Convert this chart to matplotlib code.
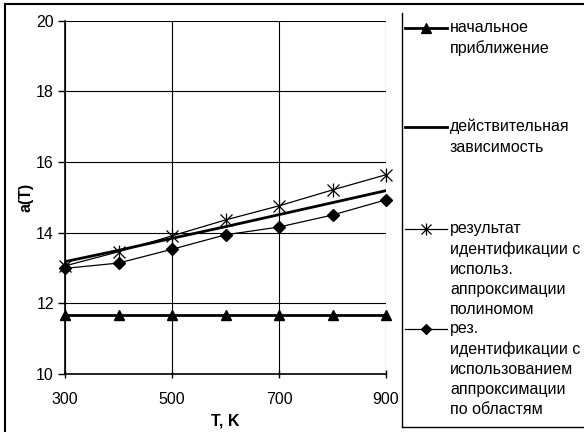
import matplotlib.pyplot as plt
from matplotlib.lines import Line2D

plt.rcParams['font.family'] = ['Liberation Sans', 'DejaVu Sans']
plt.rcParams['font.size'] = 11.5

# температура, К
T = [300, 400, 500, 600, 700, 800, 900]

initial = [11.68, 11.68, 11.68, 11.68, 11.68, 11.68, 11.68]
actual = [13.18, 13.50, 13.84, 14.17, 14.51, 14.85, 15.19]
poly = [13.06, 13.46, 13.91, 14.36, 14.76, 15.21, 15.64]
regions = [12.99, 13.14, 13.53, 13.94, 14.16, 14.50, 14.93]

labels = ['начальное\nприближение',
          'действительная\nзависимость',
          'результат\nидентификации с\nиспольз.\nаппроксимации\nполиномом',
          'рез.\nидентификации с\nиспользованием\nаппроксимации\nпо областям']

W, H = 584, 432
fig = plt.figure(figsize=(W / 100, H / 100), dpi=100)
ax = fig.add_axes([65 / W, 1 - 374 / H, (386 - 65) / W, (374 - 20.7) / H])

ax.plot(T, initial, color='black', lw=2, marker='^', ms=7.5, clip_on=False, zorder=3)
ax.plot(T, actual, color='black', lw=2, zorder=3)
ax.plot(T, poly, color='black', lw=0.9, marker='x', ms=8, mew=0.9, clip_on=False, zorder=3)
ax.plot(T, poly, color='black', lw=0, marker='|', ms=10, mew=0.9, clip_on=False, zorder=3)
ax.plot(T, regions, color='black', lw=0.9, marker='D', ms=6, clip_on=False, zorder=3)

ax.set_xlim(300, 900)
ax.set_ylim(10, 20)
ax.set_xticks([300, 500, 700, 900])
ax.set_yticks([10, 12, 14, 16, 18, 20])
ax.grid(True, color='black', lw=0.8)
for s in ['top', 'right']:
    ax.spines[s].set_visible(False)
ax.spines['left'].set_linewidth(1.2)
ax.spines['bottom'].set_linewidth(1.2)
ax.tick_params(axis='y', direction='out', length=5, width=1, pad=3)
ax.tick_params(axis='x', direction='inout', length=6, width=1, pad=10)
ax.set_xlabel('T, K', fontweight='bold', labelpad=5)
ax.set_ylabel('a(T)', fontweight='bold', labelpad=2)

# легенда
handles = [dict(lw=2, marker='^', ms=7.5), dict(lw=2, marker=None, ms=0),
           dict(lw=0.9, marker='x', ms=7), dict(lw=0.9, marker='D', ms=5.5)]
ys = [28, 127, 229, 329]
for lab, y, h in zip(labels, ys, handles):
    yf = 1 - y / H
    fig.add_artist(Line2D([405 / W, 447 / W], [yf, yf], color='black', lw=h['lw']))
    if h['marker']:
        fig.add_artist(Line2D([426 / W], [yf], color='black', lw=0,
                              marker=h['marker'], ms=h['ms'], mew=0.9))
        if h['marker'] == 'x':
            fig.add_artist(Line2D([426 / W], [yf], color='black', lw=0,
                                  marker='|', ms=h['ms'] + 2, mew=0.9))
    fig.text(450 / W, yf + 8 / H, lab, ha='left', va='top', linespacing=1.42)

# рамки
fig.add_artist(Line2D([402 / W, 402 / W], [1 - 13 / H, 1 - 427 / H], color='black', lw=1))
fig.add_artist(Line2D([402 / W, 1], [1 - 427 / H, 1 - 427 / H], color='black', lw=1))
fig.add_artist(Line2D([5 / W, 5 / W], [0, 1 - 4 / H], color='black', lw=1.5))
fig.add_artist(Line2D([5 / W, 1], [1 - 4 / H, 1 - 4 / H], color='black', lw=1.5))

fig.savefig('out.png', dpi=100)
